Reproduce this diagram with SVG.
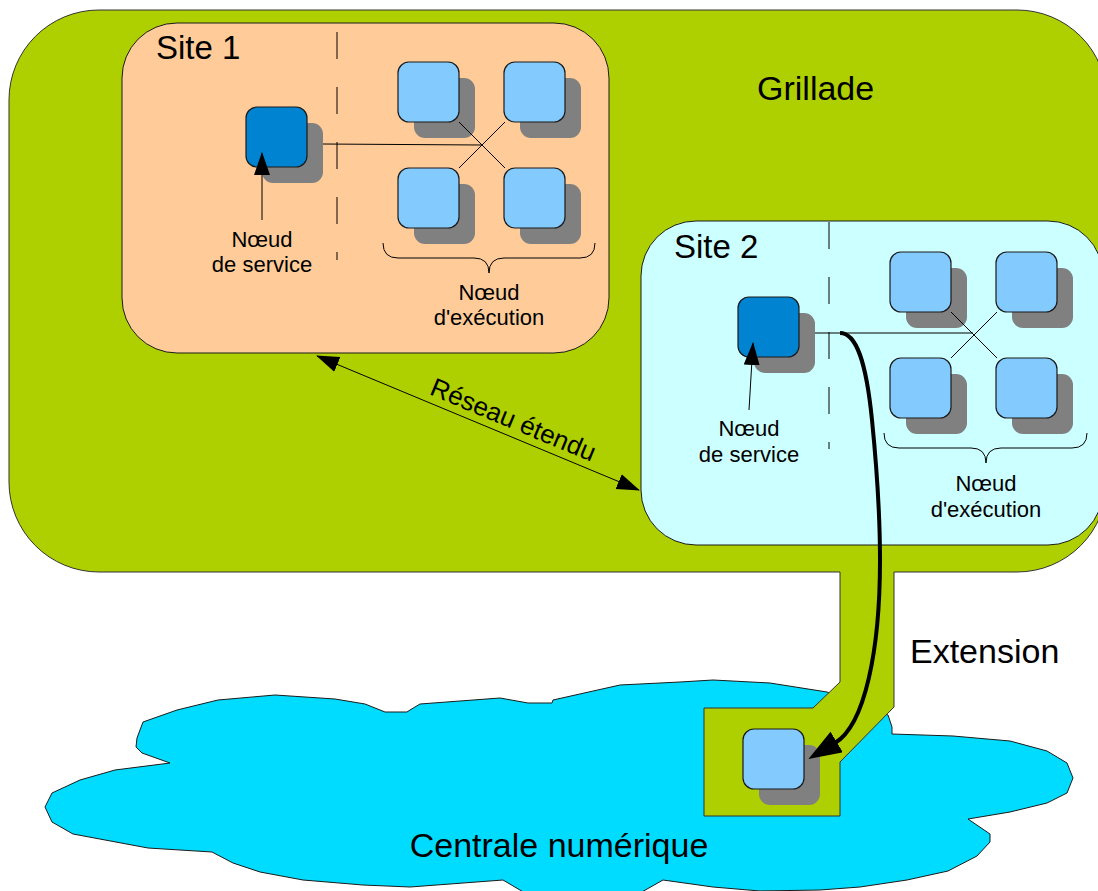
<svg xmlns="http://www.w3.org/2000/svg" width="1098" height="891" viewBox="0 0 1098 891">
<style>
.t{font-family:"Liberation Sans",Arial,sans-serif;fill:#000}
.big{font-size:34px}
.site{font-size:33px}
.lbl{font-size:22px;text-anchor:middle}
.sh{fill:#808080}
.svc{fill:#0084d1;stroke:#1a1a1a;stroke-width:1.2}
.exe{fill:#83caff;stroke:#1a1a1a;stroke-width:1.2}
.ln{stroke:#000;stroke-width:1;fill:none}
.dash{stroke:#000;stroke-width:1;stroke-dasharray:27 28;fill:none}
.brace{stroke:#000;stroke-width:1;fill:none}
</style>
<defs>
<marker id="ah" markerUnits="userSpaceOnUse" markerWidth="24" markerHeight="18" refX="22" refY="8" orient="auto-start-reverse"><path d="M0,0 L23,8 L0,16 z" fill="#000"/></marker>
<marker id="ahb" markerUnits="userSpaceOnUse" markerWidth="34" markerHeight="26" refX="2" refY="12" orient="auto"><path d="M0,0 L33,12 L0,24 z" fill="#000"/></marker>
<g id="exenode"><rect class="sh" x="16" y="16" width="61" height="60" rx="11"/><rect class="exe" x="0" y="0" width="61" height="60" rx="11"/></g>
<g id="svcnode"><rect class="sh" x="16" y="16" width="61" height="60" rx="11"/><rect class="svc" x="0" y="0" width="61" height="60" rx="11"/></g>
</defs>
<g id="grillade">
<rect x="9" y="10" width="1098" height="562" rx="90" fill="#afd000" stroke="#333" stroke-width="1"/>
<text class="t big" x="757" y="100">Grillade</text>
</g>
<g id="centrale">
<path d="M143,722 L177,710 L218,700 L275,695 L335,699 L365,704 L385,712 L407,712 L410,710 L420,704 L500,698 L528,703 L552,703 L553,700 L620,685 L680,682 L713,680 L770,683 L827,692 L888,715 L892,727 L892,734 L953,736 L1010,741 L1047,751 L1067,763 L1073,778 L1067,793 L1047,803 L1010,812 L968,819 L990,834 L990,842 L977,856 L948,871 L907,880 L860,887 L820,890 L760,891 L713,887 L663,880 L640,893 L525,893 L503,880 L410,887 L363,885 L303,880 L260,872 L233,863 L212,852 L148,848 L73,834 L52,822 L45,807 L52,793 L80,780 L115,770 L170,763 L142,753 L136,747 L137,738 Z" fill="#00dcff" stroke="#1a1a1a" stroke-width="1"/>
<text class="t big" x="559" y="857" text-anchor="middle">Centrale numérique</text>
</g>
<g id="extension">
<polygon points="840,570 840,682 813,708 704,708 704,816 840,816 840,762 894,707 894,570" fill="#afd000"/>
<polyline points="840,572 840,682 813,708 704,708 704,816 840,816 840,762 894,707 894,572" fill="none" stroke="#333" stroke-width="1"/>
<use href="#exenode" x="743" y="729"/>
<text class="t big" x="910" y="663">Extension</text>
</g>
<g id="site1">
<rect x="122" y="23" width="487" height="330" rx="55" fill="#ffcc99" stroke="#1a1a1a" stroke-width="1"/>
<text class="t site" x="156" y="59">Site 1</text>
<line class="dash" x1="337" y1="32" x2="337" y2="260"/>
</g>
<g id="site2">
<rect x="641" y="221" width="462" height="324" rx="55" fill="#ccffff" stroke="#1a1a1a" stroke-width="1"/>
<text class="t site" x="674" y="258">Site 2</text>
<line class="dash" x1="829" y1="222" x2="829" y2="449"/>
</g>
<g id="s1-service"><use href="#svcnode" x="246" y="107"/>
<text class="t lbl" x="262" y="247">Nœud</text><text class="t lbl" x="262" y="272">de service</text></g>
<g id="s1-exec">
<use href="#exenode" x="398" y="62"/><use href="#exenode" x="504" y="62"/>
<use href="#exenode" x="398" y="168"/><use href="#exenode" x="504" y="168"/>
<path class="brace" d="M383,243 Q383,258 398,258 L474,258 Q489,258 489,273 Q489,258 504,258 L580,258 Q595,258 595,243"/>
<text class="t lbl" x="489" y="300">Nœud</text><text class="t lbl" x="489" y="325">d'exécution</text></g>
<g id="s2-service"><use href="#svcnode" x="738" y="297"/>
<text class="t lbl" x="749" y="436">Nœud</text><text class="t lbl" x="749" y="462">de service</text></g>
<g id="s2-exec">
<use href="#exenode" x="890" y="252"/><use href="#exenode" x="996" y="252"/>
<use href="#exenode" x="890" y="358"/><use href="#exenode" x="996" y="358"/>
<path class="brace" d="M884,433 Q884,448 899,448 L971,448 Q986,448 986,463 Q986,448 1001,448 L1072,448 Q1087,448 1087,433"/>
<text class="t lbl" x="986" y="491">Nœud</text><text class="t lbl" x="986" y="517">d'exécution</text></g>
<g id="connectors">
<path class="ln" d="M323,144 L482,145 M459,122 L505,168 M505,122 L459,168"/>
<path class="ln" d="M815,333 L973,333 M951,312 L997,358 M997,312 L951,358"/>
<line class="ln" x1="262" y1="220" x2="262" y2="153" marker-end="url(#ah)"/>
<line class="ln" x1="749" y1="410" x2="753" y2="343" marker-end="url(#ah)"/>
<line class="ln" x1="317" y1="356" x2="639" y2="490" marker-start="url(#ah)" marker-end="url(#ah)"/>
<path d="M840,333 C856,333 866,360 872,420 C877,470 880,520 880,560 C880,650 865,725 835,743" fill="none" stroke="#000" stroke-width="4" marker-end="url(#ahb)"/>
</g>
<g id="wan-label"><text class="t" font-size="26" text-anchor="middle" transform="translate(510,428) rotate(22.6)">Réseau étendu</text></g>
</svg>
